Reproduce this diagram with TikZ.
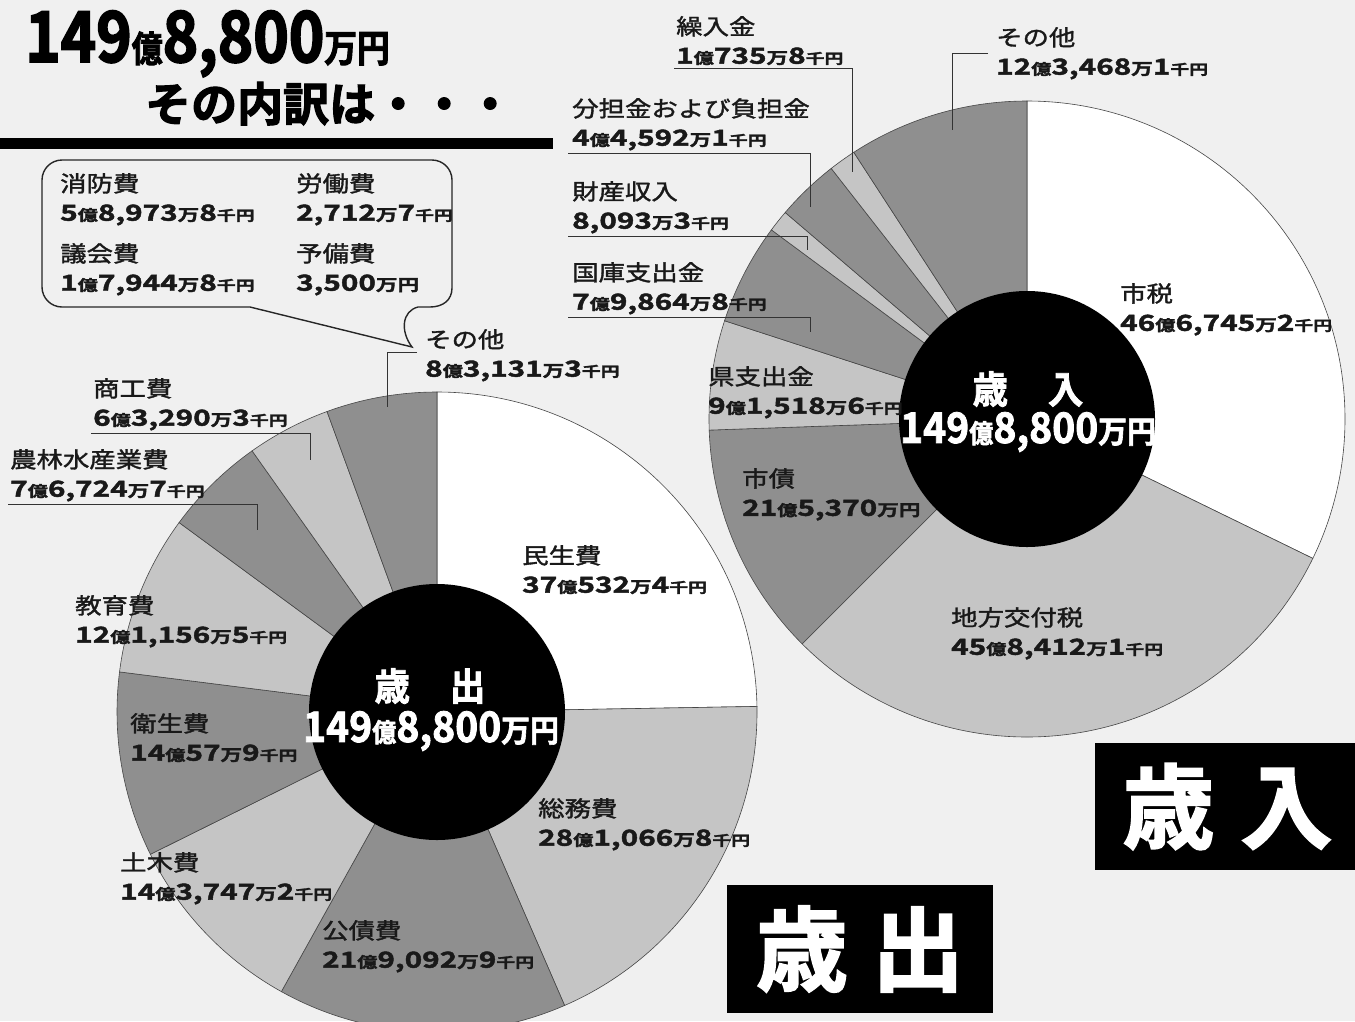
\documentclass[tikz,border=0pt]{standalone}
\usepackage{fontspec}
\setmainfont{Noto Sans CJK JP}
\newfontfamily\catf{Noto Sans CJK JP}[FakeStretch=1.2,FakeBold=1.6]
\newfontfamily\numf{Noto Sans CJK JP Bold}[FakeStretch=1.35,FakeBold=2]
\newfontfamily\ttlf{Noto Sans CJK JP Bold}[FakeStretch=0.86,FakeBold=2.5]
\newfontfamily\subf{Noto Sans CJK JP Bold}[FakeBold=2.5]
\newfontfamily\ctrf{Noto Sans CJK JP Bold}[FakeStretch=0.93,FakeBold=2]
\newfontfamily\bigf{Noto Sans CJK JP Bold}[FakeBold=2]
\definecolor{bgc}{RGB}{240,240,240}
\definecolor{lg}{RGB}{197,197,197}
\definecolor{dg}{RGB}{143,143,143}
\definecolor{edgec}{RGB}{70,70,70}
\newcommand\Oku{{\fontsize{15}{15}\selectfont 億}}
\newcommand\Man{{\fontsize{16}{16}\selectfont 万}}
\newcommand\Sen{{\fontsize{14}{14}\selectfont 千円}}
\newcommand\En{{\fontsize{16}{16}\selectfont 円}}
\newcommand\amt[1]{{\numf\fontsize{22}{29}\selectfont #1}}
\newcommand\camt{{\ctrf\fontsize{42}{42}\selectfont 149{\fontsize{26}{26}\selectfont 億}8,800{\fontsize{31}{31}\selectfont 万円}}}
\tikzset{
  slice/.style={draw=edgec, line width=0.6pt},
  lab/.style={anchor=north west, inner sep=0pt, align=left, text=black!90,
              font=\catf\fontsize{22}{29}\selectfont},
  lead/.style={draw=black!80, line width=0.8pt},
  ctrtxt/.style={text=white, inner sep=0pt},
  bigbox/.style={fill=black, text=white, inner sep=0pt,
                 font=\bigf\fontsize{92}{92}\selectfont},
  bubble/.style={draw=black!85, line width=1.4pt, fill=bgc}
}
\begin{document}
\begin{tikzpicture}[x=1pt,y=-1pt]
\useasboundingbox (0,0) rectangle (1355,1021);
\fill[bgc] (0,0) rectangle (1355,1021);

% ---------- revenue pie ----------
\coordinate (rc) at (1027,419);
\foreach \s/\e/\c in {-90/26/white, 26/135/lg, 135/178/dg, 178/198/lg,
    198/216.5/dg, 216.5/220.5/lg, 220.5/232/dg, 232/237/lg, 237/270/dg}
  \filldraw[slice, fill=\c] (rc) -- ++(\s:318) arc[start angle=\s, end angle=\e, radius=318] -- cycle;
\fill[black] (rc) circle[radius=128];

% ---------- expenditure pie ----------
\coordinate (ec) at (437,712);
\foreach \s/\e/\c in {-90/-1/white, -1/66.5/lg, 66.5/119.1/dg, 119.1/153.6/lg,
    153.6/187.2/dg, 187.2/216.3/lg, 216.3/234.7/dg, 234.7/249.9/lg, 249.9/270/dg}
  \filldraw[slice, fill=\c] (ec) -- ++(\s:320) arc[start angle=\s, end angle=\e, radius=320] -- cycle;
\fill[black] (ec) circle[radius=128];

% ---------- centre texts ----------
\node[ctrtxt, font=\ctrf\fontsize{38}{38}\selectfont] (rct) at (1028,389) {歳\hspace{40pt}入};
\node[ctrtxt] (rca) at (1028,432) {\camt};
\node[ctrtxt, font=\ctrf\fontsize{38}{38}\selectfont] (ect) at (430,686) {歳\hspace{40pt}出};
\node[ctrtxt] (eca) at (431,731) {\camt};

% ---------- title ----------
\node[anchor=base west, inner sep=0pt] (ttl) at (25,62)
  {\ttlf\fontsize{70}{70}\selectfont 149{\fontsize{36}{36}\selectfont 億}8,800{\fontsize{38}{38}\selectfont 万円}};
\node[anchor=base west, inner sep=0pt] (sub) at (145,121)
  {\subf\fontsize{46}{46}\selectfont その内訳は・・・};
\fill[black] (0,138) rectangle (553,149);

% ---------- speech bubble ----------
\draw[bubble] (62,160) -- (432,160) .. controls (443,160) and (452,169) .. (452,180)
  -- (452,288) .. controls (452,300) and (443,307) .. (430,307) -- (418,307)
  .. controls (402,311) and (400,331) .. (412,347) -- (250,307) -- (62,307)
  .. controls (51,307) and (42,298) .. (42,287) -- (42,180)
  .. controls (42,169) and (51,160) .. (62,160) -- cycle;
\node[lab] (shobo) at (60,173) {消防費\\\amt{5\Oku8,973\Man8\Sen}};
\node[lab] (rodo) at (296,173) {労働費\\\amt{2,712\Man7\Sen}};
\node[lab] (gikai) at (60,243) {議会費\\\amt{1\Oku7,944\Man8\Sen}};
\node[lab] (yobi) at (296,243) {予備費\\\amt{3,500\Man\En}};

% ---------- revenue labels ----------
\node[lab] (kuri) at (676,16) {繰入金\\\amt{1\Oku735\Man8\Sen}};
\node[lab] (buntan) at (572,98) {分担金および負担金\\\amt{4\Oku4,592\Man1\Sen}};
\node[lab] (zaisan) at (572,181) {財産収入\\\amt{8,093\Man3\Sen}};
\node[lab] (kokko) at (572,262) {国庫支出金\\\amt{7\Oku9,864\Man8\Sen}};
\node[lab] (ken) at (708,366) {県支出金\\\amt{9\Oku1,518\Man6\Sen}};
\node[lab] (shisai) at (742,468) {市債\\\amt{21\Oku5,370\Man\En}};
\node[lab] (chiho) at (951,607) {地方交付税\\\amt{45\Oku8,412\Man1\Sen}};
\node[lab] (shizei) at (1120,283) {市税\\\amt{46\Oku6,745\Man2\Sen}};
\node[lab] (rsono) at (996,27) {その他\\\amt{12\Oku3,468\Man1\Sen}};

\coordinate (kuriE) at (852,172);
\coordinate (buntanE) at (810,207);
\coordinate (zaisanE) at (807,250);
\coordinate (kokkoE) at (810,332);
\coordinate (rsonoE) at (952,130);
\draw[lead] ([xshift=-2pt,yshift=-3pt]kuri.south west) -| (kuriE);
\draw[lead] ([xshift=-4pt,yshift=-3pt]buntan.south west) -| (buntanE);
\draw[lead] ([xshift=-4pt,yshift=-3pt]zaisan.south west) -| (zaisanE);
\draw[lead] ([xshift=-4pt,yshift=-3pt]kokko.south west) -| (kokkoE);
\draw[lead] ([xshift=-8pt,yshift=-26pt]rsono.north west) -| (rsonoE);

% ---------- expenditure labels ----------
\node[lab] (esono) at (425,329) {その他\\\amt{8\Oku3,131\Man3\Sen}};
\node[lab] (shoko) at (93,378) {商工費\\\amt{6\Oku3,290\Man3\Sen}};
\node[lab] (norin) at (10,449) {農林水産業費\\\amt{7\Oku6,724\Man7\Sen}};
\node[lab] (kyoiku) at (75,595) {教育費\\\amt{12\Oku1,156\Man5\Sen}};
\node[lab] (eisei) at (130,713) {衛生費\\\amt{14\Oku57\Man9\Sen}};
\node[lab] (doboku) at (120,852) {土木費\\\amt{14\Oku3,747\Man2\Sen}};
\node[lab] (kosai) at (322,920) {公債費\\\amt{21\Oku9,092\Man9\Sen}};
\node[lab] (somu) at (538,798) {総務費\\\amt{28\Oku1,066\Man8\Sen}};
\node[lab] (minsei) at (522,545) {民生費\\\amt{37\Oku532\Man4\Sen}};

\coordinate (esonoE) at (387,407);
\coordinate (shokoE) at (310,460);
\coordinate (norinE) at (257,530);
\draw[lead] ([xshift=-8pt,yshift=-23pt]esono.north west) -| (esonoE);
\draw[lead] ([xshift=-2pt,yshift=-3pt]shoko.south west) -| (shokoE);
\draw[lead] ([xshift=-2pt,yshift=-3pt]norin.south west) -| (norinE);

% ---------- big boxes ----------
\node[bigbox, minimum width=265pt, minimum height=127pt] (boxin) at (1227.5,806.5) {歳\hspace{26pt}入};
\node[bigbox, minimum width=266pt, minimum height=128pt] (boxout) at (860,949) {歳\hspace{24pt}出};
\end{tikzpicture}
\end{document}
